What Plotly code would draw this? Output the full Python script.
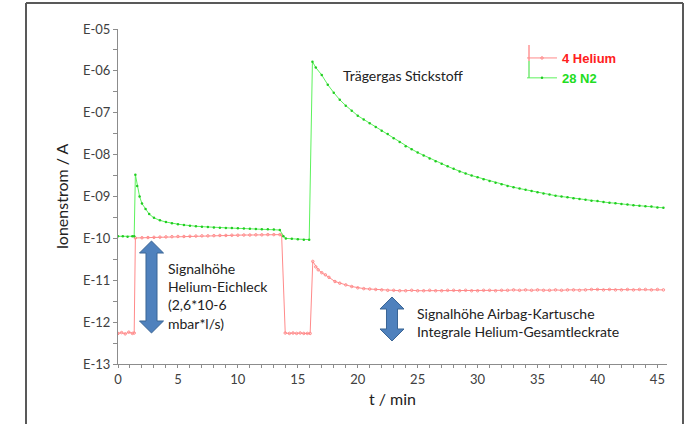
import plotly.graph_objects as go

# ---- data (time in min, log10 of ion current in A) ----
t_n2 = [0.0, 0.4, 0.8, 1.2, 1.35, 1.45, 1.6, 1.8, 2.0, 2.3, 2.6, 3.0, 3.5, 4.0, 4.5, 5.0,
        5.5, 6.0, 6.5, 7.0, 7.5, 8.0, 8.5, 9.0, 9.5, 10.0, 10.5, 11.0, 11.5, 12.0, 12.5,
        13.0, 13.5, 13.8, 14.0, 14.5, 15.0, 15.5, 15.95, 16.22, 16.5, 17.0, 17.5, 18.0,
        18.5, 19.0, 19.5, 20.0, 20.5, 21.0, 21.5, 22.0, 22.5, 23.0, 23.5, 24.0, 24.5,
        25.0, 25.5, 26.0, 26.5, 27.0, 27.5, 28.0, 28.5, 29.0, 29.5, 30.0, 30.5, 31.0,
        31.5, 32.0, 32.5, 33.0, 33.5, 34.0, 34.5, 35.0, 35.5, 36.0, 36.5, 37.0, 37.5,
        38.0, 38.5, 39.0, 39.5, 40.0, 40.5, 41.0, 41.5, 42.0, 42.5, 43.0, 43.5, 44.0,
        44.5, 45.0, 45.5]
log_n2 = [-9.95, -9.95, -9.96, -9.95, -9.95, -8.48, -8.75, -9.00, -9.17, -9.30, -9.42,
          -9.51, -9.57, -9.61, -9.64, -9.66, -9.68, -9.70, -9.71, -9.72, -9.73, -9.74,
          -9.745, -9.75, -9.755, -9.76, -9.765, -9.77, -9.775, -9.78, -9.785, -9.79,
          -9.80, -9.95, -10.0, -10.01, -10.02, -10.03, -10.03, -5.78, -5.92, -6.10,
          -6.33, -6.52, -6.69, -6.83, -6.95, -7.07, -7.16, -7.25, -7.34, -7.43, -7.51,
          -7.61, -7.70, -7.80, -7.87, -7.95, -8.02, -8.09, -8.16, -8.22, -8.28, -8.34,
          -8.40, -8.45, -8.50, -8.54, -8.59, -8.63, -8.67, -8.71, -8.75, -8.78, -8.81,
          -8.84, -8.87, -8.90, -8.93, -8.95, -8.98, -9.00, -9.02, -9.04, -9.06, -9.08,
          -9.10, -9.11, -9.13, -9.15, -9.16, -9.18, -9.19, -9.21, -9.22, -9.23, -9.24,
          -9.26, -9.27]

t_he = [0.0, 0.3, 0.6, 0.9, 1.2, 1.35, 1.45, 2.0, 2.5, 3.0, 3.5, 4.0, 4.5, 5.0, 5.5, 6.0,
        6.5, 7.0, 7.5, 8.0, 8.5, 9.0, 9.5, 10.0, 10.5, 11.0, 11.5, 12.0, 12.5, 13.0, 13.5,
        13.65, 13.95, 14.3, 14.6, 14.9, 15.2, 15.5, 15.8, 16.03, 16.25, 16.5, 16.7, 17.0,
        17.3, 17.6, 18.1, 18.5, 19.0, 19.5, 20.0, 20.5, 21.0, 21.5, 22.0, 22.5, 23.0,
        23.5, 24.0, 24.5, 25.0, 25.5, 26.0, 26.5, 27.0, 27.5, 28.0, 28.5, 29.0, 29.5,
        30.0, 30.5, 31.0, 31.5, 32.0, 32.5, 33.0, 33.5, 34.0, 34.5, 35.0, 35.5, 36.0,
        36.5, 37.0, 37.5, 38.0, 38.5, 39.0, 39.5, 40.0, 40.5, 41.0, 41.5, 42.0, 42.5,
        43.0, 43.5, 44.0, 44.5, 45.0, 45.5]
log_he = [-12.27, -12.25, -12.28, -12.24, -12.27, -12.26, -9.99, -9.985, -9.98, -9.975,
          -9.97, -9.965, -9.96, -9.955, -9.955, -9.95, -9.945, -9.94, -9.94, -9.935,
          -9.93, -9.93, -9.925, -9.925, -9.92, -9.92, -9.915, -9.915, -9.91, -9.91,
          -9.91, -9.92, -12.26, -12.27, -12.26, -12.27, -12.26, -12.27, -12.27, -12.27,
          -10.55, -10.68, -10.75, -10.82, -10.87, -10.93, -11.03, -11.07, -11.11, -11.15,
          -11.18, -11.20, -11.21, -11.22, -11.23, -11.24, -11.24, -11.25, -11.25, -11.24,
          -11.25, -11.25, -11.24, -11.25, -11.25, -11.24, -11.24, -11.25, -11.24, -11.25,
          -11.25, -11.24, -11.24, -11.25, -11.24, -11.24, -11.23, -11.24, -11.23, -11.24,
          -11.23, -11.24, -11.24, -11.23, -11.24, -11.23, -11.23, -11.24, -11.23, -11.22,
          -11.22, -11.23, -11.22, -11.23, -11.23, -11.22, -11.23, -11.22, -11.22, -11.23,
          -11.22, -11.23]

v_n2 = [10 ** e for e in log_n2]
v_he = [10 ** e for e in log_he]

x_ticks = [0, 5, 10, 15, 20, 25, 30, 35, 40, 45]
y_ticks = [1e-5, 1e-6, 1e-7, 1e-8, 1e-9, 1e-10, 1e-11, 1e-12, 1e-13]
y_ticktext = ["E-05", "E-06", "E-07", "E-08", "E-09", "E-10", "E-11", "E-12", "E-13"]
y_minor = [10 ** (-5.5 - k) for k in range(8)]

# ---- layout geometry (pixels) ----
W, H = 692, 424
L, R, T, B = 118, 667, 29, 364
PW, PH = R - L, B - T


def px(x, y):
    return (x - L) / PW, (B - y) / PH


def arrow_path(cx, ytop, ybot, hw=12, sw=5.5, hh=12):
    pts = [(cx, ytop), (cx + hw, ytop + hh), (cx + sw, ytop + hh), (cx + sw, ybot - hh),
           (cx + hw, ybot - hh), (cx, ybot), (cx - hw, ybot - hh), (cx - sw, ybot - hh),
           (cx - sw, ytop + hh), (cx - hw, ytop + hh)]
    s = ""
    for i, (a, b) in enumerate(pts):
        u, v = px(a, b)
        s += ("M" if i == 0 else "L") + f"{u:.5f},{v:.5f} "
    return s + "Z"


RED_LINE = "#ff8a8a"
GREEN_LINE = "#5cf25c"
FONT = "Lato"

fig = go.Figure()
fig.add_trace(go.Scatter(
    x=t_he, y=v_he, mode="lines+markers", name='<span style="color:#ff2020"><b>4 Helium</b></span>',
    line=dict(color=RED_LINE, width=1),
    marker=dict(symbol="circle-open", size=2.5, color=RED_LINE, line=dict(width=1)),
))
fig.add_trace(go.Scatter(
    x=t_n2, y=v_n2, mode="lines+markers", name='<span style="color:#22dd22"><b>28 N2</b></span>',
    line=dict(color=GREEN_LINE, width=1),
    marker=dict(symbol="circle", size=2.5, color="#22cc22"),
))

shapes = []
# outer frame (left, top, right)
fx0, fy0 = px(26, 3)
fx1, fy1 = px(683, 440)
for (xa, ya, xb, yb) in [(fx0, fy1, fx0, fy0), (fx0, fy0, fx1, fy0), (fx1, fy0, fx1, fy1)]:
    shapes.append(dict(type="line", xref="paper", yref="paper", x0=xa, y0=ya, x1=xb, y1=yb,
                       line=dict(color="#595959", width=2), layer="above"))
# arrows
for cx, yt, yb in [(151.5, 241, 333), (392, 297, 341)]:
    shapes.append(dict(type="path", xref="paper", yref="paper", path=arrow_path(cx, yt, yb),
                       fillcolor="#4f81bd", line=dict(color="#3a6595", width=1), layer="above"))
# legend bars
for (ya, yb, c) in [(45, 61, "#ff6060"), (61, 78, "#33dd33")]:
    u, v0 = px(529, ya)
    _, v1 = px(529, yb)
    shapes.append(dict(type="line", xref="paper", yref="paper", x0=u, x1=u, y0=v0, y1=v1,
                       line=dict(color=c, width=1)))

annotations = []
ax, ay = px(341, 75)
annotations.append(dict(xref="paper", yref="paper", x=ax, y=ay, xanchor="left", yanchor="middle",
                        text="Trägergas Stickstoff", showarrow=False,
                        font=dict(family=FONT, size=14, color="#222222")))
ax, ay = px(166, 296)
annotations.append(dict(xref="paper", yref="paper", x=ax, y=ay, xanchor="left", yanchor="middle",
                        align="left", text="Signalhöhe<br>Helium-Eichleck<br>(2,6*10-6<br>mbar*l/s)",
                        showarrow=False, font=dict(family=FONT, size=14, color="#222222")))
ax, ay = px(415, 322)
annotations.append(dict(xref="paper", yref="paper", x=ax, y=ay, xanchor="left", yanchor="middle",
                        align="left", text="Signalhöhe Airbag-Kartusche<br>Integrale Helium-Gesamtleckrate",
                        showarrow=False, font=dict(family=FONT, size=14, color="#222222")))

lx, ly = px(522, 43)
fig.update_layout(
    width=W, height=H,
    margin=dict(l=L, r=W - R, t=T, b=H - B),
    paper_bgcolor="white", plot_bgcolor="white",
    font=dict(family=FONT, color="#404040"),
    showlegend=True,
    legend=dict(x=lx, y=ly, xanchor="left", yanchor="top", bgcolor="rgba(0,0,0,0)",
                font=dict(family="Liberation Sans", size=13), tracegroupgap=0,
                itemwidth=30),
    shapes=shapes, annotations=annotations,
)
fig.update_xaxes(
    range=[0, 45.8], tickvals=x_ticks, showgrid=False, zeroline=False,
    showline=True, linecolor="#8c8c8c", linewidth=1,
    ticks="outside", ticklen=3, tickcolor="#8c8c8c",
    minor=dict(dtick=1, ticks="outside", ticklen=3, tickcolor="#8c8c8c", showgrid=False),
    tickfont=dict(family=FONT, size=13, color="#404040"),
    title=dict(text="t / min", font=dict(family=FONT, size=16, color="#222222"), standoff=8),
)
fig.update_yaxes(
    type="log", range=[-13, -5], tickvals=y_ticks, ticktext=y_ticktext,
    showgrid=False, zeroline=False, showline=True, linecolor="#8c8c8c", linewidth=1,
    ticks="outside", ticklen=4, tickcolor="#8c8c8c",
    minor=dict(tickvals=y_minor, ticks="outside", ticklen=4, tickcolor="#8c8c8c", showgrid=False),
    tickfont=dict(family=FONT, size=13, color="#404040"),
    title=dict(text="Ionenstrom / A", font=dict(family=FONT, size=16, color="#222222"), standoff=10),
)

fig.write_html("out.html")
